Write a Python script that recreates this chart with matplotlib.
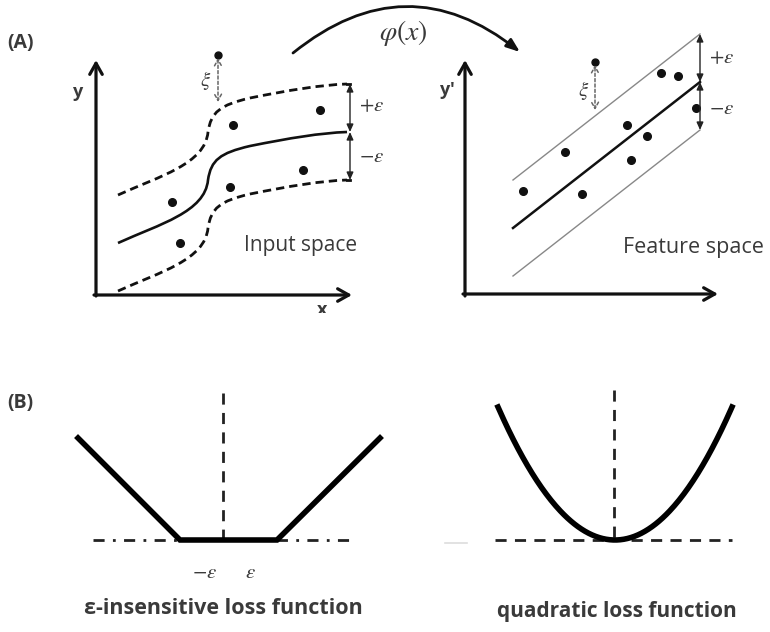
import numpy as np
import matplotlib.pyplot as plt
from matplotlib.path import Path
from matplotlib.patches import PathPatch, Rectangle

# ---- panel A, input space ----
input_pts_x = [320, 233, 172, 230, 303, 180]
input_pts_y = [110, 125, 202, 187, 170, 243]
input_outlier = (218, 55)
# regression curve as cubic bezier nodes (start, then 3 per segment)
curve_nodes = [(118, 243),
               (160, 224), (205, 212), (208, 180),
               (211, 160), (220, 153), (250, 146),
               (290, 138), (320, 133), (347, 132)]
tube = 48

# ---- panel A, feature space ----
feat_line_x = [513, 700]
feat_line_y = [228, 82]
feat_pts_x = [523, 565, 582, 627, 647, 631, 661, 678, 696]
feat_pts_y = [191, 152, 194, 125, 136, 160, 73, 76, 108]
feat_outlier = (595, 62)

# ---- panel B ----
eps_loss_x = [78, 180, 277, 380]
eps_loss_y = [438, 540, 540, 438]
quad_x = np.linspace(498, 732, 200)
quad_center, quad_halfw, quad_height = 615, 117, 133

plt.rcParams['font.family'] = ['Open Sans', 'DejaVu Sans']
plt.rcParams['mathtext.fontset'] = 'stix'
txt = '#3a3a3a'

fig = plt.figure(figsize=(7.7, 6.32), dpi=100)
ax = fig.add_axes([0, 0, 1, 1])
ax.set_xlim(0, 770)
ax.set_ylim(632, 0)
ax.axis('off')


def axis_arrow(x0, y0, x1, y1):
    ax.annotate('', xy=(x1, y1), xytext=(x0, y0),
                arrowprops=dict(arrowstyle='->,head_length=0.8,head_width=0.45',
                                lw=2.3, color='#111', shrinkA=0, shrinkB=0))


def eps_arrow(x, y0, y1, color='#222', ls='-'):
    ax.annotate('', xy=(x, y1), xytext=(x, y0),
                arrowprops=dict(arrowstyle='<|-|>,head_length=0.45,head_width=0.2',
                                lw=1.0, color=color, ls=ls, shrinkA=0, shrinkB=0))


def bezier(nodes, dy=0):
    verts = [(x, y + dy) for x, y in nodes]
    codes = [Path.MOVETO] + [Path.CURVE4] * (len(verts) - 1)
    return Path(verts, codes)


# labels
ax.text(7, 43, '(A)', fontsize=14, fontweight='bold', color=txt, va='center')
ax.text(7, 403, '(B)', fontsize=14, fontweight='bold', color=txt, va='center')

# input space
axis_arrow(96, 296, 96, 60)
axis_arrow(94, 295, 352, 295)
ax.text(78, 92, 'y', fontsize=13, fontweight='bold', color=txt, ha='center', va='center')
xl = ax.text(322, 310, 'x', fontsize=13, fontweight='bold', color=txt, ha='center', va='center')
xl.set_clip_on(True)
xl.set_clip_path(Rectangle((0, 0), 770, 313, transform=ax.transData))

ax.add_patch(PathPatch(bezier(curve_nodes), fill=False, lw=1.9, color='#111'))
for d in (-tube, tube):
    ax.add_patch(PathPatch(bezier(curve_nodes, d), fill=False, lw=2.0, color='#111',
                           ls=(0, (3.0, 1.8))))
ax.plot([347, 350], [84, 84], color='#111', lw=2.0)
ax.plot([347, 350], [180, 180], color='#111', lw=2.0)
eps_arrow(350, 132, 84)
eps_arrow(350, 132, 180)
ax.text(359, 106, r'$+\varepsilon$', fontsize=15, color=txt, va='center')
ax.text(359, 156, r'$-\varepsilon$', fontsize=15, color=txt, va='center')

ax.plot(input_pts_x, input_pts_y, 'o', color='#111', ms=5.5)
ax.plot(*input_outlier, 'o', color='#111', ms=5)
ax.annotate('', xy=(input_outlier[0], 58), xytext=(input_outlier[0], 102),
            arrowprops=dict(arrowstyle='<->,head_length=0.45,head_width=0.25',
                            lw=1.1, color='#666', ls=(0, (2, 1.5)), shrinkA=0, shrinkB=0))
ax.text(206, 80, r'$\xi$', fontsize=15, color=txt, ha='center', va='center')
ax.text(244, 246, 'Input space', fontsize=15, color=txt, va='center')

# mapping arrow
ax.annotate('', xy=(520, 52), xytext=(293, 53),
            arrowprops=dict(arrowstyle='-|>,head_length=0.8,head_width=0.3',
                            connectionstyle='arc3,rad=-0.4',
                            lw=2.0, color='#111', shrinkA=0, shrinkB=0))
ax.text(403, 33, r'$\varphi(x)$', fontsize=20, color=txt, ha='center', va='center')

# feature space
axis_arrow(465, 296, 465, 60)
axis_arrow(463, 294, 718, 294)
ax.text(448, 90, "y'", fontsize=13, fontweight='bold', color=txt, ha='center', va='center')
ax.plot(feat_line_x, feat_line_y, color='#111', lw=1.8)
for d in (-tube, tube):
    ax.plot(feat_line_x, [y + d for y in feat_line_y], color='#888', lw=1.0)
eps_arrow(700, 82, 34)
eps_arrow(700, 82, 130)
ax.text(709, 58, r'$+\varepsilon$', fontsize=15, color=txt, va='center')
ax.text(709, 108, r'$-\varepsilon$', fontsize=15, color=txt, va='center')
ax.plot(feat_pts_x, feat_pts_y, 'o', color='#111', ms=5.5)
ax.plot(*feat_outlier, 'o', color='#111', ms=5)
ax.annotate('', xy=(feat_outlier[0], 65), xytext=(feat_outlier[0], 110),
            arrowprops=dict(arrowstyle='<->,head_length=0.45,head_width=0.25',
                            lw=1.1, color='#666', ls=(0, (2, 1.5)), shrinkA=0, shrinkB=0))
ax.text(584, 90, r'$\xi$', fontsize=15, color=txt, ha='center', va='center')
ax.text(623, 248, 'Feature space', fontsize=15.5, color=txt, va='center')

# eps-insensitive loss
ax.plot([223, 223], [393, 540], color='#222', lw=2.0, ls=(0, (4, 3)))
ax.plot([93, 355], [540, 540], color='#222', lw=2.0, ls=(0, (4, 3, 1, 3)))
ax.plot(eps_loss_x, eps_loss_y, color='#000', lw=4.0, solid_joinstyle='miter')
ax.text(205, 573, r'$-\varepsilon$', fontsize=15, color=txt, ha='center', va='center')
ax.text(250, 573, r'$\varepsilon$', fontsize=15, color=txt, ha='center', va='center')
ax.text(223, 609, 'ε-insensitive loss function', fontsize=15.5, fontweight='bold',
        color=txt, ha='center', va='center')

# quadratic loss
quad_y = 540 - quad_height * ((quad_x - quad_center) / quad_halfw) ** 2
ax.plot([614, 614], [390, 540], color='#222', lw=2.0, ls=(0, (4, 3)))
ax.plot([495, 732], [540, 540], color='#222', lw=2.0, ls=(0, (4, 3)))
ax.plot([445, 467], [543, 543], color='#ddd', lw=1.2)
ax.plot(quad_x, quad_y, color='#000', lw=4.0)
ax.text(617, 611, 'quadratic loss function', fontsize=15, fontweight='bold',
        color=txt, ha='center', va='center')

fig.savefig('out.png', dpi=100)
